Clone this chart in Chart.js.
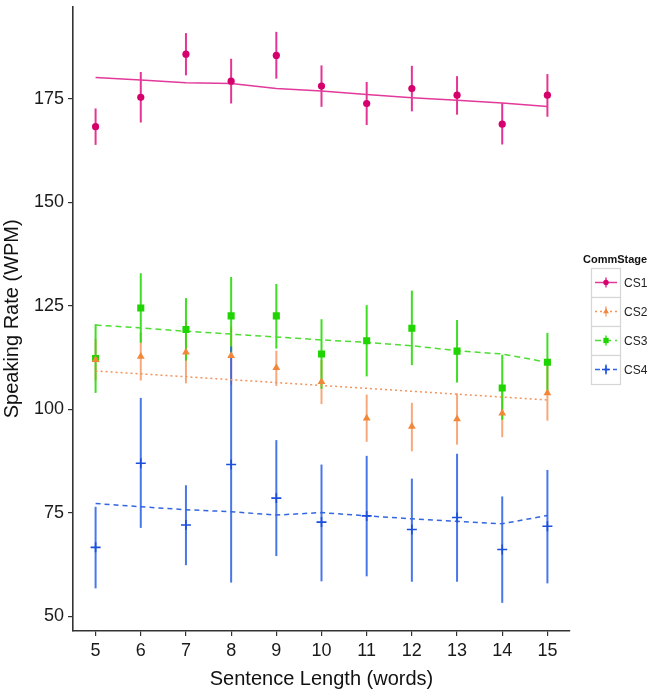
<!DOCTYPE html>
<html>
<head>
<meta charset="utf-8">
<script src="https://cdn.jsdelivr.net/npm/chart.js@4/dist/chart.umd.min.js"></script>
<style>
  html, body { margin: 0; padding: 0; background: #fff; }
  #rateChart { display: block; }
</style>
</head>
<body>
<canvas id="rateChart" width="664" height="691"></canvas>
<script>
// Sentence length categories (x)
const sentenceLength = [5, 6, 7, 8, 9, 10, 11, 12, 13, 14, 15];
const yTicks = [50, 75, 100, 125, 150, 175];

// CS1
const cs1Mean = [168.3, 175.4, 185.8, 179.3, 185.5, 178.1, 173.9, 177.5, 175.9, 168.9, 175.9];
const cs1Low  = [163.9, 169.3, 180.7, 173.9, 179.9, 173.1, 168.7, 172.0, 171.2, 164.0, 170.7];
const cs1High = [172.7, 181.5, 190.9, 184.7, 191.2, 183.1, 179.1, 183.0, 180.5, 174.0, 181.0];
const cs1Fit  = [180.2, 179.6, 178.9, 178.7, 177.5, 176.9, 176.1, 175.3, 174.7, 174.0, 173.2];

// CS2
const cs2Mean = [112.0, 112.8, 113.8, 113.0, 110.1, 106.7, 97.9, 95.9, 97.7, 99.1, 104.0];
const cs2Low  = [107.0, 107.0, 106.3, 106.0, 105.7, 101.3, 92.2, 89.9, 91.5, 93.3, 97.3];
const cs2High = [117.0, 118.6, 121.3, 120.0, 114.2, 112.0, 103.6, 101.6, 103.9, 105.0, 110.5];
const cs2Fit  = [109.3, 108.6, 107.9, 107.2, 106.5, 105.8, 105.1, 104.4, 103.7, 103.0, 102.3];

// CS3
const cs3Mean = [112.3, 124.5, 119.3, 122.6, 122.6, 113.4, 116.6, 119.6, 114.1, 105.2, 111.4];
const cs3Low  = [104.0, 116.1, 111.8, 113.2, 114.7, 105.0, 108.0, 110.7, 106.5, 97.5, 104.3];
const cs3High = [120.6, 132.9, 126.9, 132.0, 130.3, 121.8, 125.2, 128.7, 121.6, 113.2, 118.5];
const cs3Fit  = [120.4, 119.7, 118.9, 118.2, 117.5, 116.8, 116.2, 115.4, 114.2, 113.4, 111.4];

// CS4
const cs4Mean = [66.7, 87.0, 72.1, 86.7, 78.6, 72.8, 74.3, 71.0, 73.9, 66.2, 71.8];
const cs4Low  = [56.8, 71.4, 62.4, 58.2, 64.6, 58.5, 59.7, 58.4, 58.4, 53.3, 58.0];
const cs4High = [76.5, 102.8, 81.7, 115.2, 92.6, 86.7, 88.8, 83.3, 89.3, 79.0, 85.4];
const cs4Fit  = [77.3, 76.5, 75.8, 75.3, 74.5, 75.1, 74.3, 73.6, 73.0, 72.4, 74.4];

const groups = [
    { name: 'CS1', mean: cs1Mean, low: cs1Low, high: cs1High, fit: cs1Fit,
      point: '#d6006c', bar: 'rgba(226,30,135,0.9)', line: '#e2399a', dash: [], style: 'circle', radius: 3.6 },
    { name: 'CS2', mean: cs2Mean, low: cs2Low, high: cs2High, fit: cs2Fit,
      point: '#f2873a', bar: 'rgba(244,140,80,0.75)', line: '#f4935a', dash: [2, 3], style: 'triangle', radius: 4.5 },
    { name: 'CS3', mean: cs3Mean, low: cs3Low, high: cs3High, fit: cs3Fit,
      point: '#1fd400', bar: 'rgba(40,220,10,0.9)', line: '#4ddd33', dash: [6, 4], style: 'rect', radius: 5 },
    { name: 'CS4', mean: cs4Mean, low: cs4Low, high: cs4High, fit: cs4Fit,
      point: '#1b4fdc', bar: 'rgba(40,95,230,0.85)', line: '#3366e0', dash: [5, 4], style: 'cross', radius: 5 }
];

const toXY = arr => sentenceLength.map((x, i) => ({ x: x, y: arr[i] }));

const datasets = [];
groups.forEach(g => {
    datasets.push({
        label: g.name + ' fit', data: toXY(g.fit), showLine: true, pointRadius: 0,
        borderColor: g.line, borderWidth: 1.5, borderDash: g.dash, fill: false, order: 2
    });
});
groups.forEach(g => {
    datasets.push({
        label: g.name, data: toXY(g.mean), showLine: false,
        pointStyle: g.style, pointRadius: g.radius, pointHoverRadius: g.radius,
        backgroundColor: g.point, borderColor: g.point, borderWidth: g.style === 'cross' ? 1.6 : 0,
        errLow: g.low, errHigh: g.high, errColor: g.bar, order: 1
    });
});

// vertical error bars, drawn with the chart's own scales
const errorBars = {
    id: 'errorBars',
    beforeDatasetsDraw(chart) {
        const { ctx, scales: { x, y } } = chart;
        ctx.save();
        chart.data.datasets.forEach(ds => {
            if (!ds.errLow) return;
            ctx.strokeStyle = ds.errColor;
            ctx.lineWidth = 2;
            sentenceLength.forEach((v, i) => {
                const px = x.getPixelForValue(v);
                ctx.beginPath();
                ctx.moveTo(px, y.getPixelForValue(ds.errLow[i]));
                ctx.lineTo(px, y.getPixelForValue(ds.errHigh[i]));
                ctx.stroke();
            });
        });
        ctx.restore();
    }
};

// ggplot-like legend on the right
const sideLegend = {
    id: 'sideLegend',
    afterDraw(chart) {
        const ctx = chart.ctx;
        const left = 591, top = 268, key = 29;
        ctx.save();
        ctx.fillStyle = '#111';
        ctx.font = 'bold 11px "Liberation Sans", Arial, sans-serif';
        ctx.textBaseline = 'alphabetic';
        ctx.fillText('CommStage', 583, 263);
        groups.forEach((g, i) => {
            const ty = top + i * key;
            const cx = left + key / 2 + 0.5;
            const cy = ty + key / 2;
            ctx.fillStyle = '#fff';
            ctx.fillRect(left, ty, key, key);
            ctx.strokeStyle = '#d6d6d6';
            ctx.lineWidth = 1.2;
            ctx.strokeRect(left + 0.5, ty + 0.5, key, key);
            // fit line
            ctx.strokeStyle = g.line;
            ctx.lineWidth = 1.5;
            ctx.setLineDash(g.dash);
            ctx.beginPath();
            ctx.moveTo(left + 4, cy);
            ctx.lineTo(left + key - 3, cy);
            ctx.stroke();
            ctx.setLineDash([]);
            // error bar
            ctx.strokeStyle = g.bar;
            ctx.beginPath();
            ctx.moveTo(cx, cy - 5);
            ctx.lineTo(cx, cy + 5);
            ctx.stroke();
            // marker
            ctx.fillStyle = g.point;
            ctx.strokeStyle = g.point;
            ctx.lineWidth = 1.3;
            if (g.style === 'cross') {
                Chart.helpers.drawPoint(ctx, { pointStyle: 'cross', radius: 4, borderWidth: 1.3 }, cx, cy);
            } else {
                Chart.helpers.drawPoint(ctx, { pointStyle: g.style, radius: g.radius * 0.75, borderWidth: 0 }, cx, cy);
            }
            ctx.fillStyle = '#222';
            ctx.font = '12px "Liberation Sans", Arial, sans-serif';
            ctx.textBaseline = 'middle';
            ctx.fillText(g.name, 624, cy + 1);
        });
        ctx.restore();
    }
};

const axisFont = { family: '"Liberation Sans", Arial, sans-serif', size: 18 };
const titleFont = { family: '"Liberation Sans", Arial, sans-serif', size: 20 };

new Chart(document.getElementById('rateChart').getContext('2d'), {
    type: 'scatter',
    data: { datasets: datasets },
    options: {
        responsive: false,
        devicePixelRatio: 1,
        animation: false,
        layout: { padding: { top: 0, right: 94, left: 0, bottom: 0 } },
        plugins: { legend: { display: false }, tooltip: { enabled: false } },
        scales: {
            x: {
                type: 'linear', min: 4.5, max: 15.5,
                afterBuildTicks: s => { s.ticks = sentenceLength.map(v => ({ value: v })); },
                afterFit: s => { s.height = 60; s.paddingLeft = 0; s.paddingRight = 0; },
                grid: { drawOnChartArea: false, drawTicks: true, tickLength: 5, color: '#333', lineWidth: 1.2 },
                border: { display: true, color: '#333', width: 1.6 },
                ticks: { color: '#1a1a1a', font: axisFont, padding: 4, maxRotation: 0 },
                title: { display: true, text: 'Sentence Length (words)', color: '#111', font: titleFont, padding: 0 }
            },
            y: {
                type: 'linear', min: 46.5, max: 197.3,
                afterBuildTicks: s => { s.ticks = yTicks.map(v => ({ value: v })); },
                afterFit: s => { s.width = 73; s.paddingTop = 0; s.paddingBottom = 0; },
                grid: { drawOnChartArea: false, drawTicks: true, tickLength: 5, color: '#333', lineWidth: 1.2 },
                border: { display: true, color: '#333', width: 1.6 },
                ticks: { color: '#1a1a1a', font: axisFont, padding: 4 },
                title: { display: true, text: 'Speaking Rate (WPM)', color: '#111', font: titleFont, padding: 0 }
            }
        }
    },
    plugins: [errorBars, sideLegend]
});
</script>
</body>
</html>
